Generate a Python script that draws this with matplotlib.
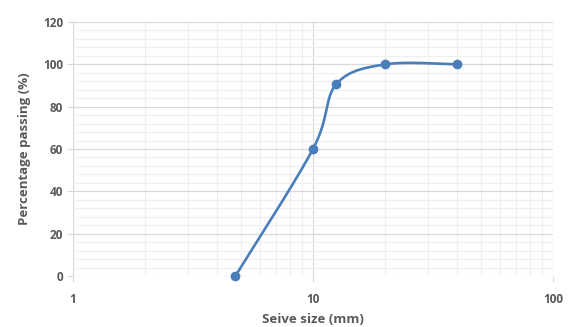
import numpy as np
import matplotlib
matplotlib.use("Agg")
import matplotlib.pyplot as plt
from matplotlib.ticker import FixedLocator, NullFormatter

sieve_mm = [4.75, 10, 12.5, 20, 40]
passing = [0, 60, 90.6, 100, 100]
x_ticks = [1, 10, 100]
x_tick_labels = ["1", "10", "100"]
y_ticks = [0, 20, 40, 60, 80, 100, 120]

plt.rcParams['font.family'] = ['Open Sans', 'DejaVu Sans']
fig = plt.figure(figsize=(5.70, 3.27), dpi=100)
ax = fig.add_axes([73/570, 1-276/327, 480/570, 254/327])
ax.set_xscale('log')
ax.set_xlim(1, 100)
ax.set_ylim(0, 120)

txt = '#595959'
ax.xaxis.set_major_locator(FixedLocator(x_ticks))
ax.set_xticklabels(x_tick_labels)
ax.xaxis.set_minor_locator(FixedLocator([m * d for d in (1, 10) for m in range(2, 10)]))
ax.xaxis.set_minor_formatter(NullFormatter())
ax.set_yticks(y_ticks)
ax.yaxis.set_minor_locator(FixedLocator(np.arange(0, 121, 4)))

ax.grid(True, which='major', color='#d9d9d9', lw=0.9)
ax.grid(True, which='minor', color='#efefef', lw=0.8)
ax.set_axisbelow(True)
for s in ax.spines.values():
    s.set_visible(False)
ax.tick_params(which='major', length=4, color='#d9d9d9', labelsize=8.5, labelcolor=txt, pad=3)
ax.tick_params(which='minor', length=0)
ax.tick_params(axis='x', pad=8)
for lab in ax.get_xticklabels() + ax.get_yticklabels():
    lab.set_fontweight('bold')

ax.set_xlabel('Seive size (mm)', fontsize=9.5, fontweight='bold', color=txt, labelpad=5)
ax.set_ylabel('Percentage passing (%)', fontsize=9.5, fontweight='bold', color=txt, labelpad=9)

# Excel-like smoothed line computed in display space
fig.canvas.draw()
pts = ax.transData.transform(np.column_stack([sieve_mm, passing]))
n = len(pts)
P = np.vstack([pts[0], pts, pts[-1]])
curve = []
t = np.linspace(0, 1, 40)[:, None]
for i in range(n - 1):
    p0, p1, p2, p3 = P[i], P[i + 1], P[i + 2], P[i + 3]
    c1 = p1 + (p2 - p0) / 6
    c2 = p2 - (p3 - p1) / 6
    seg = ((1 - t) ** 3) * p1 + 3 * ((1 - t) ** 2) * t * c1 + 3 * (1 - t) * t ** 2 * c2 + t ** 3 * p2
    curve.append(seg)
curve = np.vstack(curve)
data_curve = ax.transData.inverted().transform(curve)
color = '#4a7ebb'
ax.plot(data_curve[:, 0], data_curve[:, 1], color=color, lw=1.9, clip_on=False)
ax.plot(sieve_mm, passing, 'o', color=color, ms=6, clip_on=False)

fig.savefig('out.png', dpi=100)
